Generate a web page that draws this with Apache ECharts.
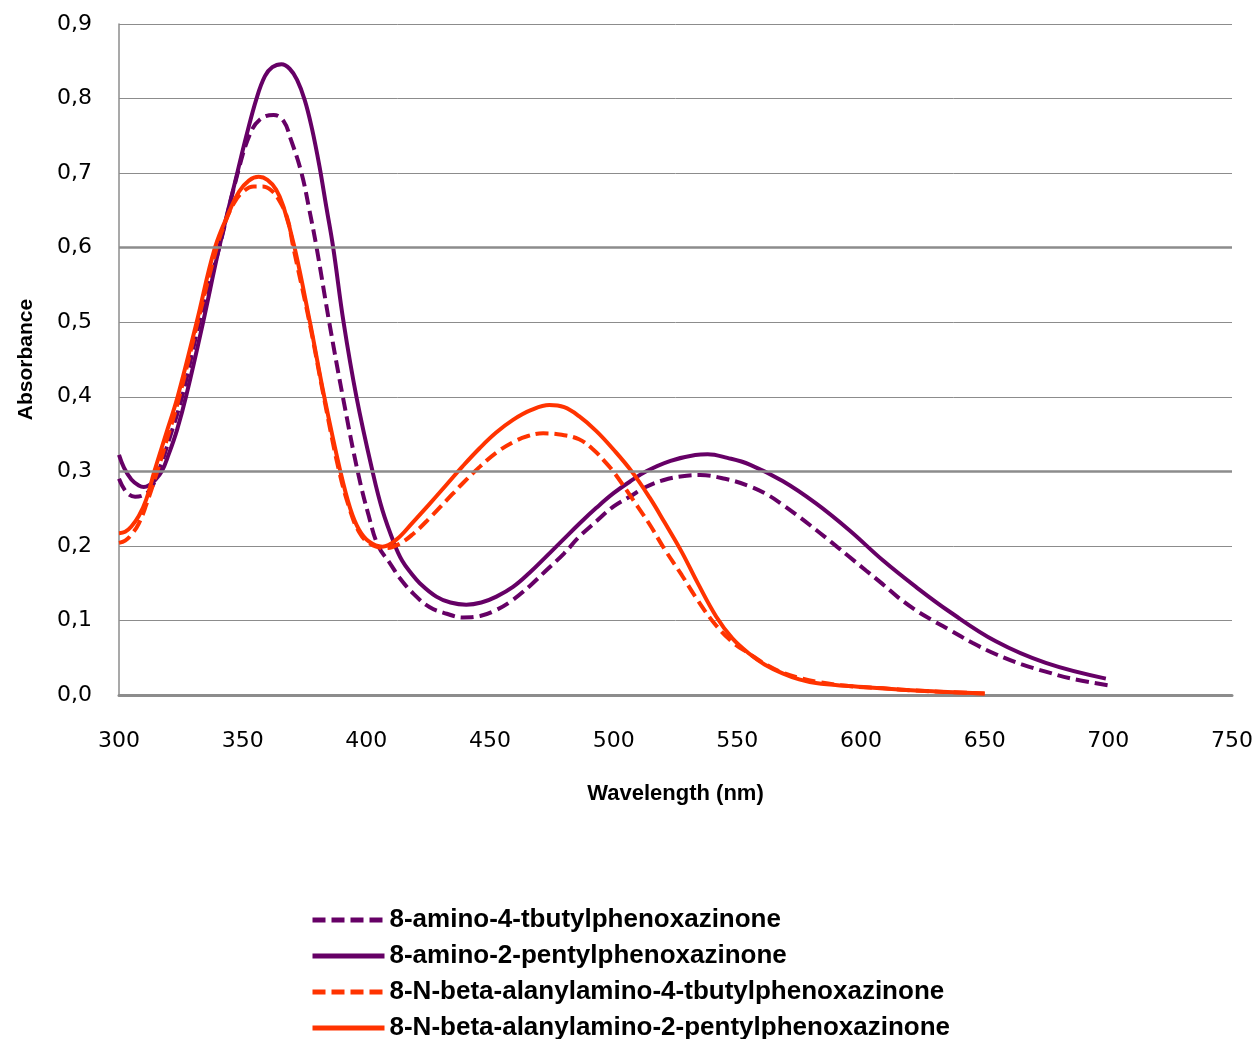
<!DOCTYPE html>
<html>
<head>
<meta charset="utf-8">
<script src="https://cdn.jsdelivr.net/npm/echarts@6/dist/echarts.min.js"></script>
<style>
html,body{margin:0;padding:0;background:#fff;}
#chart{width:1256px;height:1039px;}
</style>
</head>
<body>
<div id="chart"></div>
<script>
// ---- Data ----
var seriesNames = [
  '8-amino-4-tbutylphenoxazinone',
  '8-amino-2-pentylphenoxazinone',
  '8-N-beta-alanylamino-4-tbutylphenoxazinone',
  '8-N-beta-alanylamino-2-pentylphenoxazinone'
];

var wlAminoTbutyl = [300,303,306.5,309,312.5,316,320.5,325.5,332.5,340.5,348,352.9,357,362.5,366.5,369.5,373.8,377,379.9,385,390.5,396.5,401,404.8,409.5,413.5,419,425.5,432.5,439,446,452.5,459,466,473,480,486,493,500,507,513,520,527,535,545,555,562,568,575,582,588,595,602,609,615,622,629,636,645,655,665,675,685,700];
var absAminoTbutyl = [0.290,0.272,0.266,0.267,0.275,0.300,0.345,0.400,0.500,0.600,0.700,0.752,0.772,0.778,0.770,0.745,0.700,0.650,0.600,0.500,0.400,0.300,0.240,0.200,0.177,0.157,0.136,0.118,0.109,0.104,0.106,0.114,0.127,0.146,0.168,0.190,0.212,0.233,0.253,0.267,0.279,0.288,0.293,0.295,0.290,0.280,0.269,0.256,0.239,0.221,0.205,0.186,0.167,0.148,0.131,0.114,0.100,0.087,0.070,0.054,0.041,0.031,0.022,0.013];

var wlAminoPentyl = [300,302,305,308,310,312,314.5,317.3,320,323.5,327.3,334,340.5,347.8,351.5,355.6,359,362,365.7,369,372,375.1,378,381,383.8,386.6,390.8,396,402.5,406.5,411.3,414.5,418.2,421.6,428.3,434,440.4,446.5,452.6,459.3,466,472.8,479.5,486.2,493,499.7,506.5,513.2,523,533,538,546,555,568.3,581.8,595.3,608.7,622.2,635.7,654.5,674.7,699];
var absAminoPentyl = [0.322,0.305,0.289,0.281,0.279,0.281,0.288,0.300,0.322,0.356,0.403,0.500,0.600,0.700,0.750,0.800,0.830,0.842,0.846,0.840,0.825,0.798,0.760,0.710,0.655,0.600,0.500,0.400,0.300,0.248,0.203,0.180,0.163,0.150,0.132,0.124,0.121,0.124,0.132,0.145,0.164,0.186,0.208,0.230,0.251,0.270,0.286,0.300,0.314,0.322,0.323,0.318,0.309,0.287,0.257,0.221,0.181,0.145,0.112,0.072,0.043,0.022];

var wlAlanylTbutyl = [300,302.5,305,308,311,315,319.3,324,331.8,339.5,342.5,346.5,350.5,354.5,358,361.5,364.5,368,370.5,377,382.8,389,393.5,397,401,407.5,413,418.9,425.5,432.4,439,445.8,452.5,459.3,465,471.5,479,486,491.5,497,500.5,507.8,514.5,520.5,527.5,533,540.5,548,555,561,568.3,575,581.8,595,608.7,622,635,650];
var absAlanylTbutyl = [0.204,0.207,0.215,0.230,0.255,0.295,0.342,0.395,0.500,0.600,0.630,0.660,0.676,0.682,0.682,0.677,0.665,0.640,0.600,0.500,0.400,0.300,0.247,0.219,0.204,0.197,0.202,0.216,0.237,0.261,0.284,0.306,0.325,0.339,0.347,0.351,0.349,0.343,0.330,0.311,0.297,0.262,0.229,0.196,0.161,0.132,0.097,0.071,0.055,0.042,0.030,0.023,0.018,0.012,0.009,0.006,0.004,0.002];

var wlAlanylPentyl = [300,302.5,305,308,311,314.3,319,323.7,331.4,338.8,344.8,348.5,352.5,356.5,360,363.5,366.5,371,377.2,383,389.5,393.5,397,401,406.5,412,418.9,425.5,432.4,439,445.8,452.5,459.3,466.5,474,480,486,493,500,507.5,514.5,520.5,527.5,534,541.5,548,555,561,568.3,575,581.8,595,608.7,622,635,650];
var absAlanylPentyl = [0.217,0.219,0.226,0.240,0.262,0.300,0.350,0.400,0.500,0.600,0.650,0.675,0.690,0.695,0.691,0.678,0.655,0.600,0.500,0.400,0.300,0.250,0.222,0.206,0.199,0.208,0.232,0.256,0.282,0.307,0.331,0.352,0.369,0.382,0.389,0.386,0.374,0.354,0.329,0.299,0.265,0.232,0.192,0.150,0.105,0.076,0.055,0.041,0.029,0.021,0.016,0.012,0.009,0.006,0.004,0.002];

var xMin = 300, xMax = 750, xStep = 50;
var yMin = 0, yMax = 0.9, yStep = 0.1;
var emphasisLevels = [0.3, 0.6];

var seriesColors = ['#660066', '#660066', '#FF3300', '#FF3300'];
var seriesDashed = [true, false, true, false];

// ---- Build chart ----
function pairs(xs, ys){ return xs.map(function(x,i){ return [x, ys[i]]; }); }
var dataSets = [
  pairs(wlAminoTbutyl, absAminoTbutyl),
  pairs(wlAminoPentyl, absAminoPentyl),
  pairs(wlAlanylTbutyl, absAlanylTbutyl),
  pairs(wlAlanylPentyl, absAlanylPentyl)
];

var series = dataSets.map(function(d, i){
  return {
    name: seriesNames[i],
    type: 'line',
    data: d,
    smooth: 0.4,
    showSymbol: false,
    symbol: 'none',
    z: 3,
    lineStyle: {
      color: seriesColors[i],
      width: 4,
      type: seriesDashed[i] ? [13, 6] : 'solid',
      cap: 'butt'
    },
    itemStyle: { color: seriesColors[i] }
  };
});
// heavier grid lines seen in the reference
series.push({
  type: 'line',
  data: [],
  z: 1,
  silent: true,
  markLine: {
    silent: true,
    symbol: ['none','none'],
    label: { show: false },
    lineStyle: { color: '#8c8c8c', width: 2.5, type: 'solid' },
    data: emphasisLevels.map(function(v){ return { yAxis: v }; })
  }
});

var chart = echarts.init(document.getElementById('chart'), null, { renderer: 'canvas' });
chart.setOption({
  animation: false,
  backgroundColor: '#ffffff',
  grid: { left: 119, right: 23, top: 24, bottom: 344, containLabel: false },
  xAxis: {
    type: 'value',
    min: xMin, max: xMax, interval: xStep,
    name: 'Wavelength (nm)',
    nameLocation: 'middle',
    nameGap: 88,
    nameTextStyle: { fontFamily: 'Liberation Sans', fontWeight: 'bold', fontSize: 22, color: '#000' },
    axisLine: { show: true, lineStyle: { color: '#8c8c8c', width: 3 } },
    axisTick: { show: false },
    splitLine: { show: false },
    axisLabel: { margin: 35, fontFamily: 'DejaVu Sans', fontSize: 22, color: '#000' }
  },
  yAxis: {
    type: 'value',
    min: yMin, max: yMax, interval: yStep,
    name: 'Absorbance',
    nameLocation: 'middle',
    nameGap: 82,
    nameRotate: 90,
    nameTextStyle: { fontFamily: 'Liberation Sans', fontWeight: 'bold', fontSize: 21, color: '#000' },
    axisLine: { show: true, lineStyle: { color: '#8c8c8c', width: 1.5 } },
    axisTick: { show: false },
    splitLine: { show: true, lineStyle: { color: '#8c8c8c', width: 1 } },
    axisLabel: {
      margin: 27, fontFamily: 'DejaVu Sans', fontSize: 22, color: '#000',
      formatter: function(v){ return v.toFixed(1).replace('.', ','); }
    }
  },
  legend: {
    orient: 'vertical',
    left: 310,
    top: 907,
    height: 135,
    padding: 0,
    itemWidth: 72,
    itemHeight: 14,
    itemGap: 10,
    data: seriesNames,
    itemStyle: { opacity: 0, color: 'transparent', borderWidth: 0 },
    lineStyle: { width: 5 },
    textStyle: { fontFamily: 'Liberation Sans', fontWeight: 'bold', fontSize: 26, color: '#000', lineHeight: 26 }
  },
  series: series
});
</script>
</body>
</html>
